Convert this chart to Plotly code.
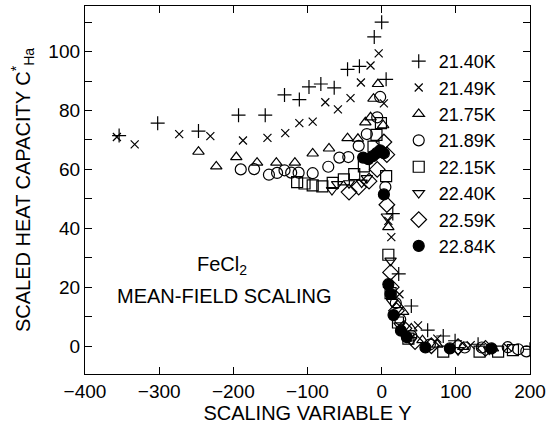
import plotly.graph_objects as go

FONT = "Liberation Sans, Arial, sans-serif"

# ---- data ----
labels = ["21.40K", "21.49K", "21.75K", "21.89K", "22.15K", "22.40K", "22.59K", "22.84K"]

x_2140 = [-354, -302, -247, -193, -157, -131, -111, -98, -82, -64, -46, -30, -10, 0, 6, 15, 23, 40, 62, 83, 99, 130, 200]
y_2140 = [71.5, 75.7, 73, 78.4, 78.4, 85.3, 83.7, 88, 89, 87.7, 94, 95, 105, 110, 90.6, 45, 24.5, 13.6, 5.4, 3.4, 1.8, 0.6, -1.1]

x_2149 = [-357, -333, -273, -231, -187, -154, -130, -111, -93, -76, -59, -42, -28, -15, -4, 3, 9, 13, 24, 49, 75, 120, 170]
y_2149 = [71, 68.5, 72, 71.3, 69.8, 70.7, 72.3, 75.7, 76.2, 82.8, 80.4, 84.2, 89.5, 95.3, 99.4, 82.4, 42.5, 37, 17.6, 7, 2.5, 0.3, -0.5]

x_2175 = [-247, -223, -196, -168, -142, -117, -93, -71, -46, -32, -22, -15, -11, -5, 2, 9, 22, 29, 40, 55, 75, 110, 150]
y_2175 = [66, 61, 64.2, 62.3, 62.3, 62.3, 65.4, 67.1, 70.6, 70.4, 76, 77.7, 84, 89, 75, 40.4, 13.9, 11.6, 6, 2, 0.5, -0.3, -0.8]

x_2189 = [-190, -172, -152, -141, -131, -122, -112, -93, -72, -57, -45, -31, -20, -6, -2, 5, 19, 25, 40, 65, 112, 135, 170, 184, 195]
y_2189 = [60, 60.1, 58.2, 58.8, 59.7, 58.9, 58.9, 58.7, 60.9, 64, 64.2, 68, 72, 77.7, 84.6, 54, 14.6, 9, 3.5, 0.5, -0.5, -0.5, -0.4, -1.1, -1.8]

x_2215 = [-114, -104, -93, -80, -66, -51, -37, -24, -11, -7, -1, 6, 9, 12, 22, 36, 83, 132, 157, 177]
y_2215 = [55.7, 55.2, 54.6, 54.2, 55.4, 56.6, 58.4, 61, 67.7, 71.7, 75.7, 57.7, 31, 18, 8, 2.5, -1.9, -1.9, -1.9, -1.4]

x_2240 = [-67, -60, -44, -27, -20, 7, 12, 14, 24, 40, 103, 145]
y_2240 = [53, 55, 55.3, 55.5, 57, 44, 29, 15, 7, 2, -1.4, -1.2]

x_2259 = [-44, -31, -17, -6, 3, 7, 7, 12, 13, 20, 30, 45, 67, 103, 140]
y_2259 = [52.3, 54, 56, 60, 69.3, 65, 48, 25, 20, 12, 6, 1.5, 0.1, -0.2, -0.8]

x_2284 = [-25, -18, -12, -7, -2, 3, 3, 9, 12, 16, 26, 34, 59, 92, 148]
y_2284 = [64, 63.5, 64.5, 65.5, 66.5, 65.5, 51.5, 21, 17.7, 10.5, 5.2, 3, -0.5, -0.8, -0.8]

xs = [x_2140, x_2149, x_2175, x_2189, x_2215, x_2240, x_2259, x_2284]
ys = [y_2140, y_2149, y_2175, y_2189, y_2215, y_2240, y_2259, y_2284]

symbols = ["cross-thin-open", "x-thin-open", "triangle-up-open", "circle-open",
           "square-open", "triangle-down-open", "diamond-open", "circle"]
sizes = [10, 8, 10, 11, 11, 10, 12, 11]

x_ticks = [-400, -300, -200, -100, 0, 100, 200]
y_ticks = [0, 20, 40, 60, 80, 100]

fig = go.Figure()
for lab, x, y, sym, sz in zip(labels, xs, ys, symbols, sizes):
    fig.add_trace(go.Scatter(
        x=x, y=y, mode="markers", name=lab,
        marker=dict(symbol=sym, size=sz, color="black",
                    line=dict(color="black", width=1.2)),
    ))

axis_common = dict(
    showline=True, linecolor="black", linewidth=1.3, mirror="ticks",
    ticks="inside", tickcolor="black", tickwidth=1.2, ticklen=7,
    showgrid=False, zeroline=False,
    tickfont=dict(family=FONT, size=19, color="black"),
)

fig.update_layout(
    width=551, height=425,
    margin=dict(l=85, r=19, t=5, b=51),
    paper_bgcolor="white", plot_bgcolor="white",
    font=dict(family=FONT, color="black"),
    xaxis=dict(range=[-400, 200], tickvals=x_ticks,
               title=dict(text="SCALING VARIABLE Y", font=dict(size=20), standoff=4),
               **axis_common),
    yaxis=dict(range=[-9.5, 115.5], tickvals=y_ticks,
               minor=dict(dtick=10, ticks="inside", ticklen=7, tickcolor="black", tickwidth=1.2),
               title=dict(text="SCALED HEAT CAPACITY C<sup>*</sup><sub>Ha</sub>", font=dict(size=20), standoff=12),
               **axis_common),
    legend=dict(x=0.705, xanchor="left", y=0.598, yanchor="middle",
                font=dict(family=FONT, size=18, color="black"),
                bgcolor="rgba(0,0,0,0)", borderwidth=0),
    showlegend=True,
    annotations=[
        dict(x=-215, y=27.5, xref="x", yref="y", text="FeCl<sub>2</sub>", showarrow=False,
             font=dict(family=FONT, size=20, color="black")),
        dict(x=-213, y=17, xref="x", yref="y", text="MEAN-FIELD SCALING", showarrow=False,
             font=dict(family=FONT, size=20, color="black")),
    ],
)

fig.write_html("out.html")
